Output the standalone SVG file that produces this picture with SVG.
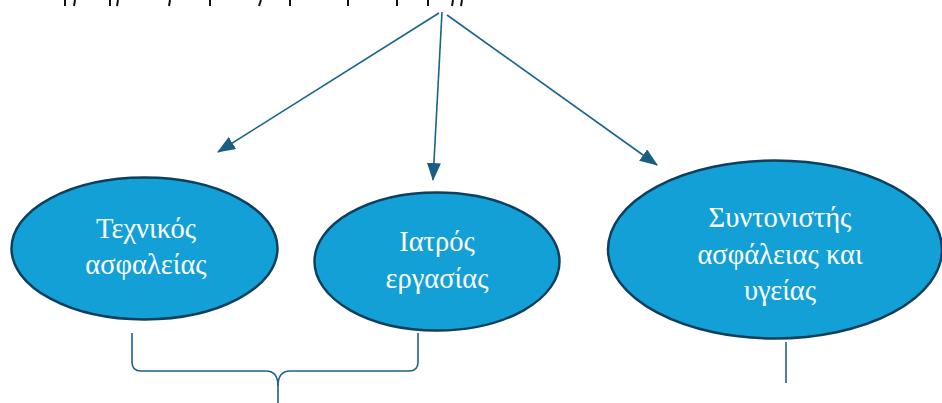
<svg xmlns="http://www.w3.org/2000/svg" width="942" height="403" viewBox="0 0 942 403">
<style>
.node{fill:#12A0D7;stroke:#0E3F5C;stroke-width:2.5}
.lbl{font-family:"Liberation Serif","Times New Roman",serif;font-size:28.5px;fill:#ffffff;text-anchor:middle}
.con{stroke:#1B6388;stroke-width:1.6;fill:none}
.frag{stroke:#111;stroke-width:2;fill:none}
</style>
<defs>
<marker id="ah" markerUnits="userSpaceOnUse" markerWidth="18" markerHeight="14" refX="17" refY="7" orient="auto">
<path d="M0,0 L18,7 L0,14 Z" fill="#1A5F82"/>
</marker>
</defs>
<g id="top-fragments">
<path class="frag" d="M65,0 L65,6 M75,0 L74,6 M110,0 L110,6 M118,0 L117,6 M170,0 L169,6 M210,0 L210,6 M261,0 L259,6 M290,0 L290,6 M348,0 L348,6 M397,0 L397,6 M428,0 L428,6 M453,0 L452,6 M462,0 L461,6"/>
</g>
<g id="connectors">
<line class="con" x1="439" y1="13" x2="218" y2="152" marker-end="url(#ah)"/>
<line class="con" x1="442" y1="12" x2="433" y2="180" marker-end="url(#ah)"/>
<line class="con" x1="447" y1="15" x2="657" y2="165" marker-end="url(#ah)"/>
<path class="con" d="M132,333 L132,362 Q132,371 141,371 L266,371 Q278,371 278,386 L278,403"/>
<path class="con" d="M418,333 L418,362 Q418,371 409,371 L290,371 Q278,371 278,386"/>
<line class="con" x1="786" y1="342" x2="786" y2="383"/>
</g>
<g id="node-technikos">
<ellipse class="node" cx="144.5" cy="248.5" rx="133" ry="71"/>
<text class="lbl" x="146" y="238">Τεχνικός</text>
<text class="lbl" x="146" y="274">ασφαλείας</text>
</g>
<g id="node-iatros">
<ellipse class="node" cx="437" cy="261.5" rx="122.5" ry="69"/>
<text class="lbl" x="437" y="251">Ιατρός</text>
<text class="lbl" x="437" y="288">εργασίας</text>
</g>
<g id="node-syntonistis">
<ellipse class="node" cx="775" cy="249.5" rx="167" ry="89"/>
<text class="lbl" x="780" y="227">Συντονιστής</text>
<text class="lbl" x="780" y="264">ασφάλειας και</text>
<text class="lbl" x="780" y="300">υγείας</text>
</g>
</svg>
